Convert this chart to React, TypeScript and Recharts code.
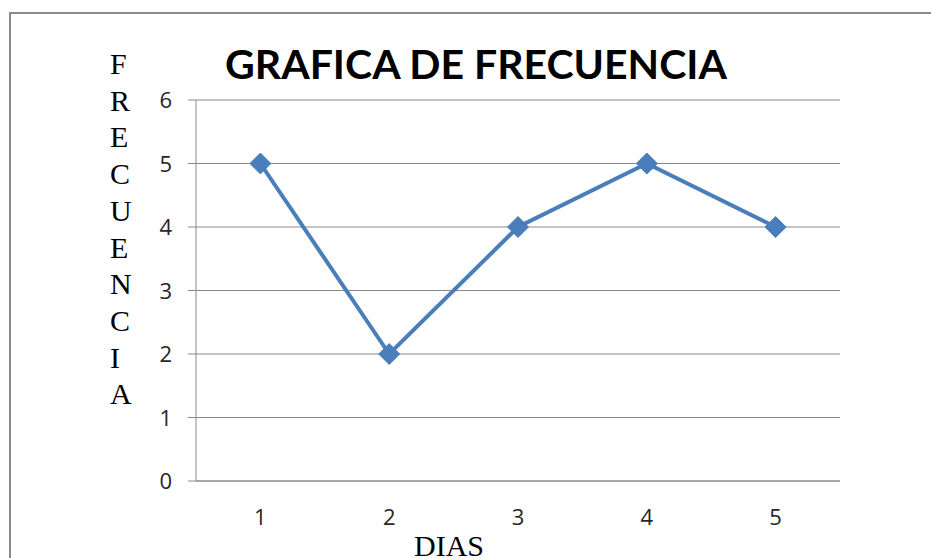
import React from "react";
import { LineChart, Line, XAxis, YAxis, CartesianGrid } from "recharts";

const days = [1, 2, 3, 4, 5];
const frequencies = [5, 2, 4, 5, 4];
const yTicks = [0, 1, 2, 3, 4, 5, 6];
const title = "GRAFICA DE FRECUENCIA";
const yLabel = "FRECUENCIA";
const xLabel = "DIAS";

const data = days.map((d, i) => ({ day: d, freq: frequencies[i] }));
const boundaries = [...days.map((d) => d - 0.5), days[days.length - 1] + 0.5];

const Diamond = (props: any) => {
  const { cx, cy } = props;
  if (cx == null || cy == null) return null;
  const r = 10.5;
  return (
    <polygon
      points={`${cx},${cy - r} ${cx + r},${cy} ${cx},${cy + r} ${cx - r},${cy}`}
      fill="#4A7EBB"
      stroke="#4A7EBB"
      strokeWidth={1}
    />
  );
};

const YTick = (props: any) => (
  <text
    x={props.x}
    y={props.y}
    dy={8}
    textAnchor="end"
    fontSize={22}
    fontFamily="'Open Sans'"
    fill="#262626"
  >
    {props.payload.value}
  </text>
);

const XTick = (props: any) => (
  <text
    x={props.x}
    y={props.y}
    dy={22}
    textAnchor="middle"
    fontSize={22}
    fontFamily="'Open Sans'"
    fill="#262626"
  >
    {props.payload.value}
  </text>
);

export default function App() {
  const grid = "#898989";
  return (
    <div
      style={{
        position: "absolute",
        left: 0,
        top: 0,
        width: 931,
        height: 558,
        overflow: "hidden",
        background: "#fff",
      }}
    >
      <div
        style={{
          position: "absolute",
          left: 9,
          top: 12,
          width: 960,
          height: 700,
          border: "2px solid #8a8a8a",
        }}
      />
      <div style={{ position: "absolute", left: 0, top: 0 }}>
        <LineChart
          width={931}
          height={558}
          data={data}
          margin={{ top: 100, right: 91, bottom: 29, left: 0 }}
        >
          <CartesianGrid horizontal vertical={false} stroke={grid} xAxisId="b_labels" strokeWidth={1} />
          <XAxis
            xAxisId="a_ticks"
            dataKey="day"
            type="number"
            domain={[boundaries[0], boundaries[boundaries.length - 1]]}
            ticks={boundaries}
            tick={false}
            tickSize={8}
            height={8}
            stroke={grid}
            axisLine={{ stroke: grid }}
            tickLine={{ stroke: grid }}
          />
          <XAxis
            xAxisId="b_labels"
            dataKey="day"
            type="number"
            domain={[boundaries[0], boundaries[boundaries.length - 1]]}
            ticks={days}
            axisLine={false}
            tickLine={false}
            tickSize={0}
            tickMargin={14}
            height={40}
            tick={<XTick />}
          />
          <YAxis
            domain={[0, 6]}
            ticks={yTicks}
            width={196}
            tickSize={8}
            tickMargin={16}
            axisLine={{ stroke: grid }}
            tickLine={{ stroke: grid }}
            tick={<YTick />}
          />
          <Line
            xAxisId="b_labels"
            dataKey="freq"
            stroke="#4A7EBB"
            strokeWidth={4}
            dot={<Diamond />}
            activeDot={false}
            isAnimationActive={false}
          />
        </LineChart>
      </div>
      <div
        style={{
          position: "absolute",
          left: 126,
          width: 700,
          top: 39,
          textAlign: "center",
          fontFamily: "Lato",
          fontWeight: 700,
          fontSize: 41,
          color: "#000",
          lineHeight: "50px",
        }}
      >
        {title}
      </div>
      <div
        style={{
          position: "absolute",
          left: 110,
          top: 46,
          fontFamily: "'Liberation Serif'",
          fontSize: 30,
          lineHeight: "36.7px",
          color: "#000",
        }}
      >
        {yLabel.split("").map((ch, i) => (
          <div key={i}>{ch}</div>
        ))}
      </div>
      <div
        style={{
          position: "absolute",
          left: 349,
          width: 200,
          top: 528,
          textAlign: "center",
          fontFamily: "'Liberation Serif'",
          fontSize: 30,
          lineHeight: "36px",
          color: "#000",
        }}
      >
        {xLabel}
      </div>
    </div>
  );
}
